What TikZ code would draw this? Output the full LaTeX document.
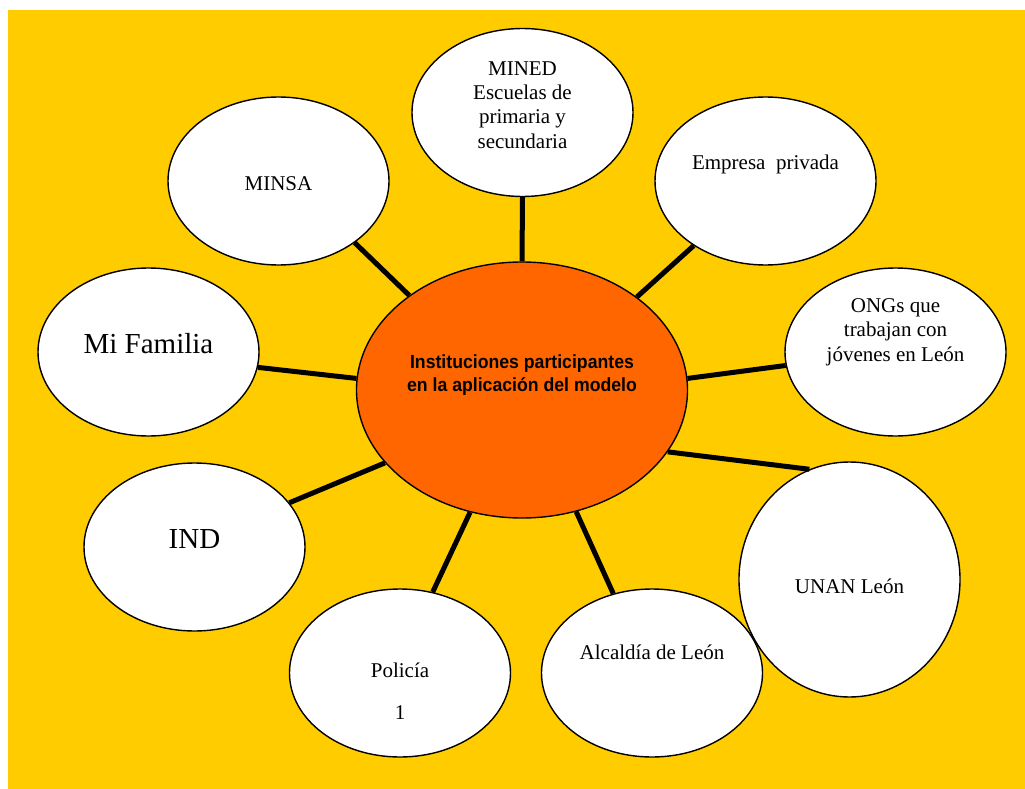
\documentclass[tikz,border=0pt]{standalone}
\usepackage{fontspec}
\setmainfont{Liberation Serif}
\newfontfamily\titlefont[FakeStretch=0.93]{Liberation Sans}
\usetikzlibrary{shapes.geometric}
\definecolor{fondo}{HTML}{FFCC00}
\definecolor{naranja}{HTML}{FF6600}

\begin{document}
\begin{tikzpicture}[x=1pt,y=-1pt,
    inst/.style={ellipse,draw,fill=white,line width=1.4pt,inner sep=0pt,
      minimum width=221pt,minimum height=168pt},
    lbl/.style={font=\fontsize{21}{24.3}\selectfont,align=center,anchor=base,inner sep=0pt},
    grande/.style={lbl,font=\fontsize{29}{33}\selectfont},
    enlace/.style={line width=5pt}]
    \useasboundingbox (0,0) rectangle (1025,789);
    \fill[fondo] (8,10) rectangle (1025,789);

    % centro (base = ultima linea)
    \node[ellipse,draw,fill=naranja,line width=1.4pt,inner sep=0pt,
      minimum width=331pt,minimum height=256pt] (centro) at (522,390) {};
    \node[lbl,font=\titlefont\bfseries\fontsize{19}{23}\selectfont] (t-centro) at (522,391)
      {Instituciones participantes\\en la aplicación del modelo};

    % instituciones alrededor
    \node[inst] (mined) at (522.5,112.5) {};
    \node[inst] (minsa) at (278.5,181) {};
    \node[inst] (empresa) at (765.5,181) {};
    \node[inst] (familia) at (148.5,352) {};
    \node[inst] (ongs) at (895.5,352) {};
    \node[inst] (ind) at (194.5,547) {};
    \node[inst] (policia) at (400,673) {};
    \node[inst] (alcaldia) at (652,673) {};
    \node[inst,minimum height=235pt] (unan) at (849.5,579.5) {};

    \node[lbl] (t-mined) at (522.5,148) {MINED\\Escuelas de\\primaria y\\secundaria};
    \node[lbl] (t-minsa) at (278.5,190) {MINSA};
    \node[lbl] (t-empresa) at (765.5,169) {Empresa\ \ privada};
    \node[grande] (t-familia) at (148.5,353) {Mi Familia};
    \node[lbl] (t-ongs) at (895.5,361) {ONGs que\\trabajan con\\jóvenes en León};
    \node[grande] (t-ind) at (194.5,548) {IND};
    \node[lbl] (t-policia) at (400,719) {Policía\\[17.7pt]1};
    \node[lbl] (t-alcaldia) at (652,659) {Alcaldía de León};
    \node[lbl] (t-unan) at (849.5,593) {UNAN León};

    % enlaces al centro
    \draw[enlace] (mined.south) -- (centro.north);
    \draw[enlace] (minsa.321) -- (centro.140);
    \draw[enlace] (empresa.222) -- (centro.39);
    \draw[enlace] (familia.-8) -- (centro.176);
    \draw[enlace] (ongs.187) -- (centro.4);
    \draw[enlace] (ind.25) -- (centro.208);
    \draw[enlace] (unan.110) -- (centro.337);
    \draw[enlace] (policia.68) -- (centro.247);
    \draw[enlace] (alcaldia.116) -- (centro.294);
\end{tikzpicture}
\end{document}
